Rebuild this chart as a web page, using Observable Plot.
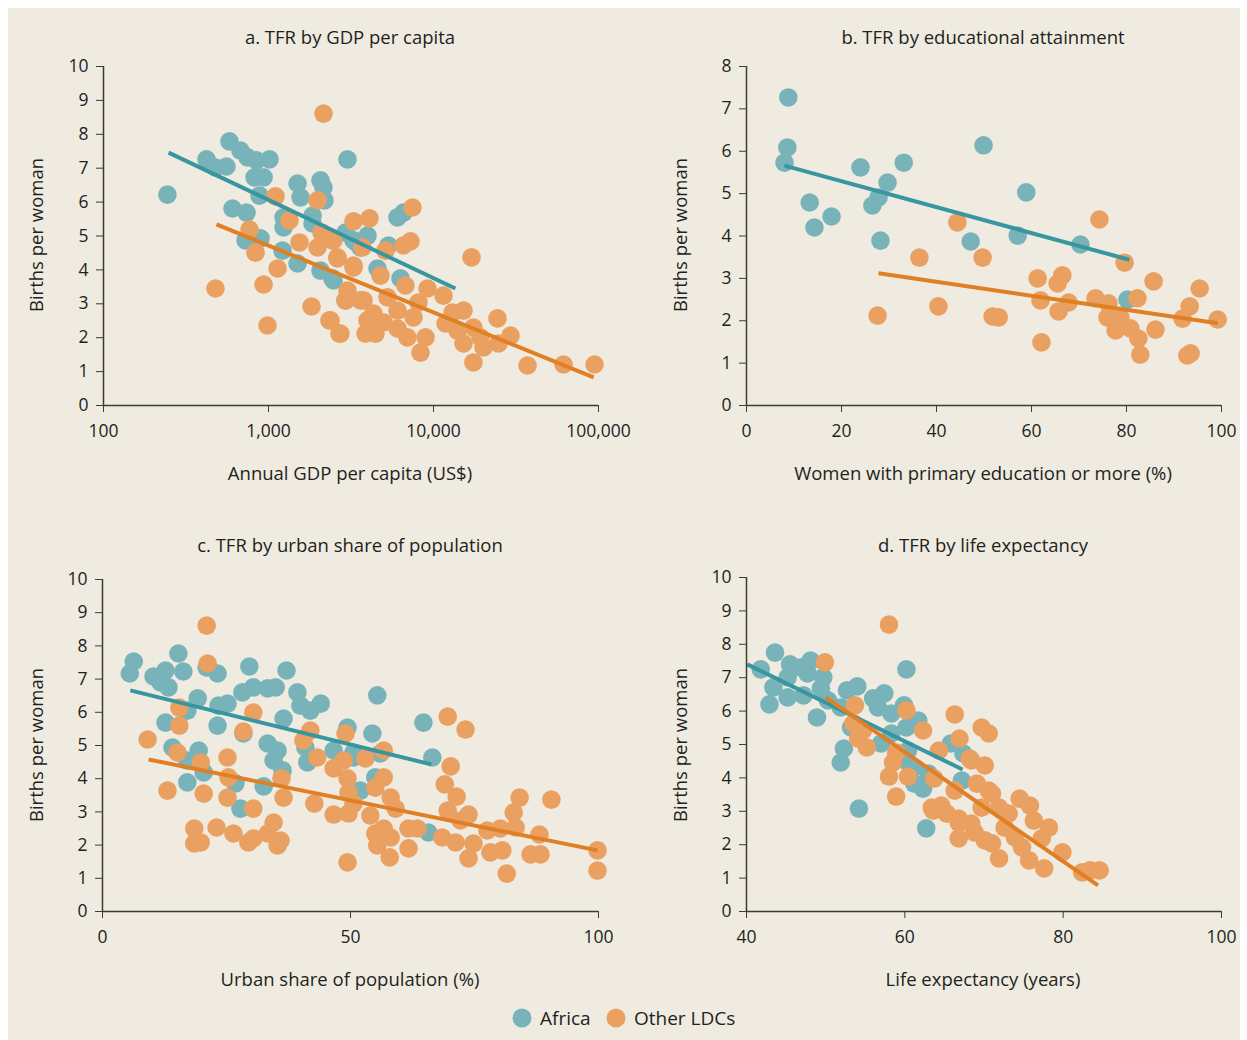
<!DOCTYPE html>
<html>
<head>
<meta charset="utf-8">
<script src="https://cdn.jsdelivr.net/npm/d3@7"></script>
<script src="https://cdn.jsdelivr.net/npm/@observablehq/plot@0.6"></script>
<style>
  html, body { margin: 0; padding: 0; background: #ffffff; }
  #page { position: absolute; left: 8px; top: 8px; width: 1232px; height: 1032px; background: #efebe1; }
  .txt { position: absolute; font-family: "Open Sans", "Noto Sans", sans-serif; font-size: 18.5px; color: #231f20; white-space: nowrap; }
  .ctr { transform: translate(-50%, -50%); }
  .rot { transform: translate(-50%, -50%) rotate(-90deg); }
  .leg { font-size: 19px; transform: translateY(-50%); }
  .leg-dot { position: absolute; width: 19px; height: 19px; border-radius: 50%; transform: translate(-50%, -50%); }
</style>
</head>
<body>
<div id="root"></div>
<script>
// ---------------- DATA ----------------
// Panel a: [GDP per capita (US$), births per woman]
const gdpAfrica = [[244,6.22],[421,7.26],[477,7.02],[556,7.05],[580,7.79],[676,7.52],[746,7.32],[846,7.23],[1014,7.26],[823,6.73],[934,6.73],[882,6.19],[605,5.81],[736,5.69],[726,4.87],[895,4.93],[1500,6.55],[1563,6.14],[2066,6.64],[2154,6.43],[2183,6.05],[3010,7.26],[1233,5.55],[1233,5.25],[1849,5.6],[1849,5.37],[1216,4.57],[1500,4.19],[2066,3.98],[2442,3.75],[2929,3.1],[3275,4.87],[3610,4.66],[6050,5.55],[6579,5.69],[3981,5.01],[2929,5.1],[3460,4.78],[5333,4.72],[4577,4.04],[6310,3.75],[2477,3.69]];
const gdpOther = [[2154,8.61],[1103,6.17],[1982,6.05],[1340,5.46],[767,5.19],[1541,4.81],[834,4.51],[1982,4.66],[2442,4.87],[2096,5.1],[1135,4.04],[934,3.57],[477,3.45],[2618,4.37],[1823,2.92],[2342,2.51],[2691,2.12],[986,2.36],[3874,2.12],[7458,5.84],[3275,5.43],[4093,5.52],[7254,4.84],[6579,4.72],[3713,4.66],[5117,4.57],[2477,4.87],[16990,4.37],[2618,4.34],[3275,4.13],[4775,3.83],[6761,3.54],[9199,3.45],[11500,3.24],[2929,3.1],[3767,3.1],[5261,3.19],[8110,3.04],[4328,2.71],[6050,2.8],[7566,2.6],[13040,2.74],[15200,2.8],[3981,2.51],[4979,2.45],[2729,2.12],[4449,2.12],[6050,2.27],[6950,2.01],[8948,2.01],[8337,1.56],[11830,2.42],[13970,2.21],[17460,2.3],[24430,2.57],[29300,2.06],[15200,1.83],[20100,1.71],[17460,1.27],[37150,1.18],[61400,1.21],[94600,1.21],[2377,2.51],[24780,1.83],[19260,2.01],[3010,3.39],[3610,3.1],[3275,4.07]];
const gdpTrendAfrica = [[248,7.46],[13580,3.45]];
const gdpTrendOther = [[484,5.34],[93500,0.83]];

// Panel b: [women with primary education or more (%), births per woman]
const eduAfrica = [[8.8,7.27],[8.6,6.09],[8.0,5.73],[13.3,4.79],[14.3,4.2],[17.9,4.46],[24.0,5.62],[33.1,5.73],[29.7,5.26],[27.8,4.91],[26.5,4.72],[28.2,3.89],[49.9,6.14],[47.2,3.87],[58.9,5.03],[57.1,4.01],[70.3,3.8],[80.2,2.5]];
const eduOther = [[44.4,4.32],[36.4,3.49],[49.7,3.49],[27.6,2.12],[40.4,2.34],[74.3,4.39],[79.6,3.37],[61.3,3.0],[66.5,3.07],[65.5,2.88],[61.9,2.48],[67.8,2.43],[65.7,2.22],[51.8,2.1],[53.1,2.08],[62.1,1.49],[73.5,2.53],[76.2,2.41],[82.3,2.53],[85.7,2.93],[76.0,2.08],[78.7,2.08],[77.7,1.77],[80.8,1.82],[82.5,1.58],[82.9,1.2],[86.1,1.79],[95.4,2.76],[93.3,2.34],[91.8,2.05],[99.2,2.03],[92.8,1.18],[93.5,1.23]];
const eduTrendAfrica = [[8.0,5.66],[80.6,3.44]];
const eduTrendOther = [[27.8,3.12],[99.2,1.94]];

// Panel c: [urban share of population (%), births per woman]
const urbAfrica = [[6.3,7.53],[5.5,7.17],[15.3,7.77],[10.3,7.08],[12.7,7.26],[11.7,6.9],[13.3,6.75],[16.3,7.23],[21.0,7.35],[23.2,7.17],[29.6,7.38],[37.1,7.26],[19.2,6.42],[12.7,5.69],[17.1,6.05],[23.4,6.2],[25.2,6.26],[28.2,6.6],[30.4,6.75],[33.3,6.72],[34.9,6.75],[39.3,6.6],[39.9,6.2],[44.0,6.26],[41.9,6.05],[23.2,5.6],[28.4,5.36],[36.5,5.81],[14.1,4.94],[19.4,4.85],[17.1,4.55],[20.4,4.19],[17.1,3.89],[26.8,3.86],[32.5,3.77],[27.8,3.1],[33.3,5.06],[35.3,4.85],[34.5,4.55],[36.3,4.25],[41.3,4.49],[40.9,4.94],[46.6,4.85],[49.4,5.54],[50.6,4.64],[55.4,6.51],[64.7,5.69],[66.5,4.64],[54.4,5.36],[56.0,4.76],[50.6,4.79],[55.0,4.04],[52.0,3.64],[65.7,2.38]];
const urbOther = [[21.0,8.61],[21.2,7.47],[9.1,5.18],[15.5,6.14],[15.5,5.6],[15.1,4.79],[19.8,4.49],[25.2,4.64],[30.4,5.99],[28.4,5.42],[25.4,4.04],[25.2,3.43],[20.4,3.55],[13.1,3.64],[30.4,3.1],[36.1,4.01],[36.5,3.43],[41.9,5.45],[40.5,5.15],[43.3,4.64],[42.7,3.25],[46.6,2.92],[49.0,5.36],[48.6,4.55],[46.6,4.31],[49.4,4.01],[49.6,3.58],[49.6,2.95],[49.4,1.48],[18.5,2.5],[18.5,2.05],[19.8,2.08],[23.0,2.53],[26.4,2.35],[29.4,2.08],[30.4,2.2],[34.5,2.68],[35.3,1.99],[35.9,2.14],[33.3,2.35],[69.6,5.87],[73.2,5.48],[70.2,4.37],[69.0,3.83],[71.4,3.46],[69.6,3.04],[73.8,2.92],[72.2,2.74],[68.5,2.23],[71.2,2.08],[73.8,1.6],[74.8,2.05],[77.6,2.44],[80.2,2.5],[78.2,1.78],[80.6,1.84],[81.5,1.14],[82.9,2.98],[84.1,3.43],[83.3,2.53],[88.1,2.32],[86.3,1.72],[88.3,1.72],[90.5,3.37],[99.8,1.84],[99.8,1.23],[56.7,4.85],[53.0,4.61],[56.7,4.04],[55.0,3.73],[58.1,3.43],[59.1,3.1],[54.0,2.89],[50.6,3.25],[55.0,2.35],[56.7,2.5],[58.1,2.23],[55.4,1.99],[57.9,1.63],[61.7,2.5],[63.5,2.5],[61.7,1.9]];
const urbTrendAfrica = [[5.6,6.66],[66.3,4.43]];
const urbTrendOther = [[9.3,4.58],[99.8,1.84]];

// Panel d: [life expectancy (years), births per woman]
const lifeAfrica = [[41.8,7.25],[43.6,7.75],[42.9,6.2],[43.4,6.71],[45.5,7.4],[45.2,7.01],[46.9,7.31],[48.1,7.51],[47.7,7.13],[45.2,6.41],[47.2,6.47],[49.7,7.01],[49.4,6.68],[50.3,6.32],[48.9,5.81],[52.7,6.62],[54.0,6.74],[51.9,6.11],[56.0,6.38],[57.4,6.53],[60.2,7.25],[56.6,6.11],[58.3,5.93],[59.9,6.17],[61.7,5.72],[53.2,5.51],[52.3,4.88],[51.9,4.46],[57.0,5.03],[58.3,5.33],[60.2,5.51],[60.4,4.82],[61.2,4.31],[61.2,3.83],[62.3,3.68],[63.0,4.13],[62.7,2.49],[54.2,3.08],[65.8,5.03],[67.4,4.73],[67.2,3.92],[60.4,4.46]];
const lifeOther = [[58.0,8.59],[49.9,7.46],[53.7,6.17],[53.5,5.63],[54.7,5.42],[54.1,5.18],[55.2,4.91],[60.2,6.02],[62.3,5.42],[66.3,5.9],[66.9,5.18],[64.3,4.82],[58.9,4.76],[58.5,4.46],[58.0,4.04],[60.4,4.04],[58.9,3.44],[63.7,3.98],[70.1,4.37],[69.7,5.51],[68.4,4.52],[63.4,3.11],[64.6,3.17],[66.8,2.78],[66.8,2.19],[70.6,5.33],[68.2,4.58],[66.3,3.62],[69.1,3.83],[71.0,3.53],[69.7,3.11],[63.6,3.02],[65.3,2.93],[66.8,2.66],[68.4,2.63],[68.8,2.37],[70.1,2.13],[71.9,3.11],[73.1,2.93],[74.5,3.38],[75.8,3.17],[76.3,2.72],[78.2,2.51],[77.3,2.19],[74.8,1.92],[71.9,1.59],[75.7,1.53],[77.6,1.29],[79.9,1.77],[82.4,1.17],[83.4,1.23],[84.6,1.23],[72.6,2.51],[73.9,2.22],[71.0,2.04],[70.6,3.62]];
const lifeTrendAfrica = [[40.1,7.40],[67.3,4.25]];
const lifeTrendOther = [[50.0,6.41],[84.4,0.78]];

// Ticks and labels
const gdpTicks = [100, 1000, 10000, 100000];
const gdpTickLabels = ["100", "1,000", "10,000", "100,000"];
const eduTicks = [0, 20, 40, 60, 80, 100];
const urbTicks = [0, 50, 100];
const lifeTicks = [40, 60, 80, 100];
const tfrTicks10 = [0,1,2,3,4,5,6,7,8,9,10];
const tfrTicks8 = [0,1,2,3,4,5,6,7,8];

const titles = ["a. TFR by GDP per capita", "b. TFR by educational attainment", "c. TFR by urban share of population", "d. TFR by life expectancy"];
const xLabels = ["Annual GDP per capita (US$)", "Women with primary education or more (%)", "Urban share of population (%)", "Life expectancy (years)"];
const yLabel = "Births per woman";
const seriesNames = ["Africa", "Other LDCs"];

// ---------------- STYLE ----------------
const FONT = '"Open Sans", "Noto Sans", sans-serif';
const TEAL = "#79b3ba";
const ORANGE = "#e9a061";
const TEAL_LINE = "#3896a0";
const ORANGE_LINE = "#e07f24";
const AXIS = "#3d3a38";

const root = document.getElementById("root");
const page = document.createElement("div");
page.id = "page";
root.appendChild(page);

function addText(text, x, y, cls) {
  const d = document.createElement("div");
  d.className = "txt " + cls;
  d.style.left = (x - 8) + "px";
  d.style.top = (y - 8) + "px";
  d.textContent = text;
  page.appendChild(d);
  return d;
}

function panel(cfg) {
  const fig = Plot.plot({
    width: cfg.width,
    height: cfg.height,
    marginLeft: cfg.mL,
    marginRight: cfg.mR,
    marginTop: cfg.mT,
    marginBottom: cfg.mB,
    style: {background: "transparent", fontFamily: FONT, fontSize: "17.5px", color: "#231f20", overflow: "visible"},
    x: {type: cfg.xType, domain: cfg.xDomain},
    y: {domain: cfg.yDomain},
    marks: [
      Plot.dot(cfg.africa, {x: d => d[0], y: d => d[1], r: 9.3, fill: TEAL}),
      Plot.dot(cfg.other, {x: d => d[0], y: d => d[1], r: 9.3, fill: ORANGE}),
      Plot.line(cfg.trendA, {x: d => d[0], y: d => d[1], stroke: TEAL_LINE, strokeWidth: 4, strokeLinecap: "butt"}),
      Plot.line(cfg.trendO, {x: d => d[0], y: d => d[1], stroke: ORANGE_LINE, strokeWidth: 4, strokeLinecap: "butt"}),
      Plot.ruleX([cfg.xDomain[0]], {stroke: AXIS, strokeWidth: 1.5}),
      Plot.ruleY([cfg.yDomain[0]], {stroke: AXIS, strokeWidth: 1.5}),
      Plot.axisX({ticks: cfg.xTicks, tickFormat: cfg.xFormat, tickSize: 7, tickPadding: 12, label: null, stroke: AXIS}),
      Plot.axisY({ticks: cfg.yTicks, tickSize: 7, tickPadding: 8, label: null, stroke: AXIS})
    ]
  });
  fig.style.position = "absolute";
  fig.style.left = (cfg.left - 8) + "px";
  fig.style.top = (cfg.top - 8) + "px";
  page.appendChild(fig);
}

// Panel a
panel({left: 8, top: 50, width: 610, height: 395, mL: 95, mR: 20, mT: 16, mB: 40,
  xType: "log", xDomain: [100, 100000], yDomain: [0, 10],
  xTicks: gdpTicks, xFormat: d => gdpTickLabels[gdpTicks.indexOf(d)], yTicks: tfrTicks10,
  africa: gdpAfrica, other: gdpOther, trendA: gdpTrendAfrica, trendO: gdpTrendOther});
// Panel b
panel({left: 650, top: 50, width: 590, height: 395, mL: 96, mR: 19, mT: 16, mB: 40,
  xType: "linear", xDomain: [0, 100], yDomain: [0, 8],
  xTicks: eduTicks, xFormat: d => String(d), yTicks: tfrTicks8,
  africa: eduAfrica, other: eduOther, trendA: eduTrendAfrica, trendO: eduTrendOther});
// Panel c
panel({left: 8, top: 560, width: 610, height: 391, mL: 94, mR: 20, mT: 19, mB: 40,
  xType: "linear", xDomain: [0, 100], yDomain: [0, 10],
  xTicks: urbTicks, xFormat: d => String(d), yTicks: tfrTicks10,
  africa: urbAfrica, other: urbOther, trendA: urbTrendAfrica, trendO: urbTrendOther});
// Panel d
panel({left: 650, top: 560, width: 590, height: 391, mL: 96, mR: 19, mT: 17, mB: 40,
  xType: "linear", xDomain: [40, 100], yDomain: [0, 10],
  xTicks: lifeTicks, xFormat: d => String(d), yTicks: tfrTicks10,
  africa: lifeAfrica, other: lifeOther, trendA: lifeTrendAfrica, trendO: lifeTrendOther});

// Titles and axis labels
addText(titles[0], 350, 36, "ctr");
addText(titles[1], 983, 36, "ctr");
addText(titles[2], 350, 544, "ctr");
addText(titles[3], 983, 544, "ctr");
addText(xLabels[0], 350, 472, "ctr");
addText(xLabels[1], 983, 472, "ctr");
addText(xLabels[2], 350, 978, "ctr");
addText(xLabels[3], 983, 978, "ctr");
addText(yLabel, 35, 235, "rot");
addText(yLabel, 679, 235, "rot");
addText(yLabel, 35, 745, "rot");
addText(yLabel, 679, 745, "rot");

// Legend
function legendDot(x, y, color) {
  const d = document.createElement("div");
  d.className = "leg-dot";
  d.style.left = (x - 8) + "px";
  d.style.top = (y - 8) + "px";
  d.style.background = color;
  page.appendChild(d);
}
legendDot(522, 1018, TEAL);
legendDot(616, 1018, ORANGE);
addText(seriesNames[0], 540, 1018, "leg");
addText(seriesNames[1], 634, 1018, "leg");
</script>
</body>
</html>
